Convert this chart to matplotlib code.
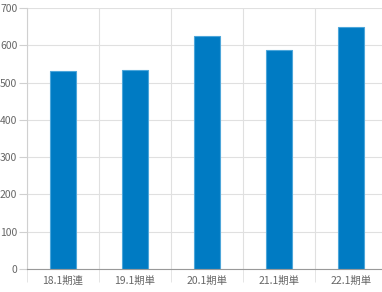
import matplotlib.pyplot as plt

plt.rcParams['font.family'] = ['Noto Sans CJK JP', 'DejaVu Sans']

periodos = ['18.1期連', '19.1期単', '20.1期単', '21.1期単', '22.1期単']
valores = [531, 535, 626, 587, 649]
y_ticks = [0, 100, 200, 300, 400, 500, 600, 700]

fig = plt.figure(figsize=(3.82, 2.92), dpi=100)
# area do grafico (a direita passa um pouco da figura, como no original)
ax = fig.add_axes([27 / 382, 23 / 292, 360 / 382, 261 / 292])

x = range(len(periodos))
ax.bar(x, valores, width=0.36, color='#007bc3', edgecolor='#4da6da', linewidth=0.8, zorder=3)

ax.set_xlim(-0.5, len(periodos) - 0.5)
ax.set_ylim(0, 700)
ax.set_yticks(y_ticks)
ax.set_xticks([i - 0.5 for i in range(len(periodos) + 1)], minor=True)
ax.set_xticks(list(x))
ax.set_xticklabels(periodos)

ax.grid(axis='y', color='#e0e0e0', linewidth=0.8, zorder=0)
ax.grid(axis='x', which='minor', color='#e0e0e0', linewidth=0.8, zorder=0)

for s in ['top', 'right']:
    ax.spines[s].set_visible(False)
ax.spines['left'].set_color('#d0d0d0')
ax.spines['bottom'].set_color('#999999')
ax.spines['bottom'].set_zorder(4)

ax.tick_params(axis='y', length=6, color='#d0d0d0', labelsize=7.5, labelcolor='#666666', pad=1)
ax.tick_params(axis='x', which='major', length=0, labelsize=7.5, labelcolor='#666666', pad=5)
ax.tick_params(axis='x', which='minor', length=9, color='#e0e0e0')

fig.savefig('out.png', dpi=100)
